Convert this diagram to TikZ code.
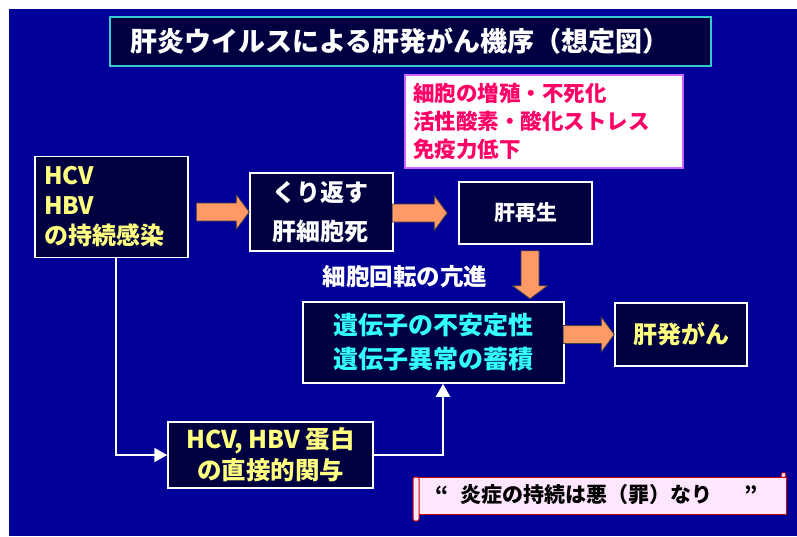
\documentclass[tikz,border=0pt]{standalone}
\usepackage{fontspec}
\setmainfont{Noto Sans CJK JP}
\usetikzlibrary{arrows.meta,calc}
\definecolor{bgblue}{HTML}{000099}
\definecolor{navy}{HTML}{000040}
\definecolor{ltyellow}{HTML}{FFFF80}
\definecolor{ltcyan}{HTML}{33FFFF}
\definecolor{hotpink}{HTML}{FF0066}
\definecolor{arrorange}{HTML}{FF9966}
\definecolor{titleedge}{HTML}{33CCCC}
\definecolor{violetedge}{HTML}{CC66FF}
\definecolor{scrollfill}{HTML}{FFE6FF}
\definecolor{scrolledge}{HTML}{CC0000}
\tikzset{
  box/.style={draw=white, line width=1.5pt, fill=navy, inner ysep=0pt},
  conn/.style={draw=white, line width=2pt, -{Triangle[length=13pt,width=14pt]}},
  arrowstyle/.style={fill=arrorange, draw=black!75, line width=0.8pt},
  pics/blockarrow/.style={code={
    \filldraw[arrowstyle] (0,0) -- (-13,17.5) -- (-13,9) -- (-#1,9) -- (-#1,-9) -- (-13,-9) -- (-13,-17.5) -- cycle;}}
}
\begin{document}
\begin{tikzpicture}[x=1pt,y=-1pt,font=\bfseries]
\useasboundingbox (0,0) rectangle (797,536);
\fill[white] (0,0) rectangle (797,536);
\fill[bgblue] (9,9) rectangle (797,536);

% title
\node[draw=titleedge, line width=1.5pt, fill=navy, minimum width=601pt, minimum height=49pt,
  inner xsep=20pt, text width=561pt, align=left, text=white,
  font=\bfseries\fontsize{27}{30}\selectfont] (title) at (410.5,41.5)
  {肝炎ウイルスによる肝発がん機序（想定図）};

% pink box
\node[draw=violetedge, line width=1.2pt, fill=white, minimum width=278pt, minimum height=93pt,
  inner xsep=8pt, text width=262pt, align=left, text=hotpink,
  font=\bfseries\fontsize{21.5}{28}\selectfont] (factors) at (544,121.5)
  {細胞の増殖・不死化\\活性酸素・酸化ストレス\\免疫力低下};

% HCV box
\node[box, minimum width=153pt, minimum height=101pt, inner xsep=9pt, text width=135pt,
  align=left, text=ltyellow, font=\bfseries\fontsize{24}{30}\selectfont] (hcv) at (111.5,207)
  {HCV\\HBV\\の持続感染};

% death box
\node[box, minimum width=143pt, minimum height=78pt, inner xsep=22pt, text width=99pt,
  align=left, text=white, font=\bfseries\fontsize{24}{39}\selectfont] (death) at (321.5,212)
  {くり返す\\肝細胞死};

% regeneration
\node[box, minimum width=133pt, minimum height=62pt, text=white,
  font=\bfseries\fontsize{21}{26}\selectfont] (regen) at (525.5,213) {肝再生};

% gene box
\node[box, minimum width=261pt, minimum height=81pt, align=center, text=ltcyan,
  font=\bfseries\fontsize{25}{34}\selectfont] (gene) at (433.5,342.5)
  {遺伝子の不安定性\\遺伝子異常の蓄積};

% cancer
\node[box, minimum width=132pt, minimum height=63pt, text=ltyellow,
  font=\bfseries\fontsize{24}{28}\selectfont] (cancer) at (681,334.5) {肝発がん};

% protein
\node[box, minimum width=205pt, minimum height=66pt, align=center, text=ltyellow,
  font=\bfseries\fontsize{24.5}{31}\selectfont] (protein) at (270.5,455)
  {HCV, HBV 蛋白\\の直接的関与};

% label
\node[text=white, font=\bfseries\fontsize{23.5}{26}\selectfont] (turnover) at (405,277) {細胞回転の亢進};

% block arrows
\pic at (death.west) {blockarrow=53};
\pic at ($(regen.west)+(-11,0)$) {blockarrow=55};
\pic[rotate=-90] at ($(regen.south)+(4.5,54)$) {blockarrow=48};
\pic at (cancer.west) {blockarrow=51};

% white connectors
\draw[conn] ($(hcv.south)+(4.5,0)$) |- (protein.west);
\draw[conn] (protein.east) -| ($(gene.south)+(9.5,0)$);

% scroll
\filldraw[fill=scrollfill, draw=scrolledge, line width=1pt] (416,477) rectangle (786,514);
\filldraw[fill=scrollfill, draw=scrolledge, line width=1pt, rounded corners=2pt] (413,477) rectangle (419,521);
\filldraw[fill=scrollfill, draw=scrolledge, line width=0.8pt] (783.5,475) circle (2.5pt);
\node[text=black, font=\bfseries\fontsize{21}{24}\selectfont, anchor=west] (motto) at (432,495)
  {“\hspace{12pt}炎症の持続は悪（罪）なり\hspace{32pt}”};
\end{tikzpicture}
\end{document}
